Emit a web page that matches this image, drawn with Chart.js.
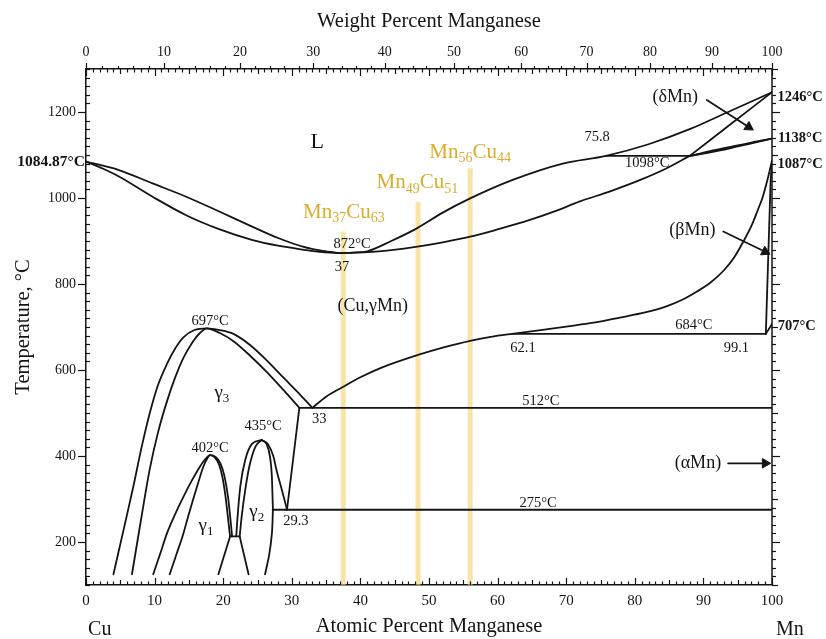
<!DOCTYPE html>
<html><head><meta charset="utf-8">
<script src="https://cdn.jsdelivr.net/npm/chart.js@4.4.0/dist/chart.umd.min.js"></script>
<style>html,body{margin:0;padding:0;background:#fff}</style>
</head><body>
<canvas id="c" width="826" height="639"></canvas>
<script>
// ---------- tick labels ----------
const atomicTicks = [0,10,20,30,40,50,60,70,80,90,100];
const weightTicks = [0,10,20,30,40,50,60,70,80,90,100];
const tempTicks = [200,400,600,800,1000,1200];

// ---------- phase boundaries [at.% Mn, °C] ----------
const liquidusCu = [[0,1084.87],[4.8,1065],[9.7,1034],[14.6,1003],[19.5,968],[24.3,933],[28,907],[31.6,887],[34.5,877],[37,872]];
const solidusCu = [[0,1084.87],[2.5,1068],[4.8,1050],[9.7,1003],[14.6,960],[19.5,927],[24.3,902],[28,889],[31.6,880],[34.5,874],[37,872]];
const liquidusMn = [[37,872],[39,873],[41,876],[44.5,900],[48.3,930],[52,966],[56,999],[62.2,1042],[69.5,1080],[75.8,1098],[82,1125],[88,1160],[94,1203],[100,1246]];
const solidusMn = [[37,872],[41,874],[44.5,879],[48.3,887],[52,897],[56,910],[60,927],[64.7,949],[68.5,970],[72,992],[76.5,1016],[80.8,1042],[84.5,1068],[88,1098]];
const deltaSolidus = [[88,1098],[94,1172],[100,1246]];
const lensUpper = [[88,1098],[91,1109],[94,1119],[97,1129],[100,1138]];
const lensLower = [[88,1098],[91,1106],[94,1116],[97,1127],[100,1138]];
const iso1098 = [[75.8,1098],[88,1098]];
const gammaBeta = [[33,512],[35,538],[37.5,561],[40,583],[43,605],[48.4,635],[52,652],[56,668],[59,677],[62.1,684],[66,692],[70,701],[74,710],[77.8,722],[81.5,734],[84.6,748],[87,764],[89,782],[91,803],[93,832],[94.5,862],[95.8,898],[97,935],[98,975],[98.6,1000],[99.3,1040],[100,1087]];
const betaSolvus = [[99.1,684],[99.8,1040],[100,1087]];
const alphaBeta = [[99.1,684],[100,707]];
const iso684 = [[62.1,684],[99.1,684]];
const iso512 = [[31.1,512],[100,512]];
const iso275 = [[27.2,275],[100,275]];
const gamma3Outer = [[4.0,125],[5.5,230],[6.9,329],[8.1,420],[9.3,500],[10.5,565],[11.8,614],[13,650],[14.2,676],[15.8,693],[17.6,697],[19.5,693],[21.5,684],[24,657],[26.3,623],[28.8,582],[31.2,543],[33,512]];
const gamma3Inner = [[6.7,125],[8,250],[9.3,370],[10.5,455],[11.8,527],[13,583],[14.2,628],[15.5,664],[16.6,686],[17.6,697],[19.5,686],[21.5,667],[24,632],[26.3,596],[28.8,553],[31.1,512]];
const gamma1Outer = [[9.8,125],[10.8,172],[11.8,220],[13,265],[14.2,305],[15.4,342],[16.6,375],[17.4,393],[18.1,402],[18.9,398],[19.6,383],[20.2,352],[20.7,305],[21.0,262],[21.3,213]];
const gamma1Inner = [[12.2,125],[13.2,172],[14.2,220],[14.9,260],[15.6,298],[16.4,340],[17.1,375],[17.7,395],[18.1,402],[18.8,396],[19.4,380],[19.9,350],[20.3,310],[20.6,270],[21.0,213]];
const flat213 = [[21.0,213],[22.4,213]];
const fanLeft = [[21.0,213],[19.3,125]];
const fanRight = [[22.4,213],[23.7,125]];
const gamma2A = [[21.9,213],[22.1,260],[22.5,330],[23.2,390],[24.2,428],[25.6,437]];
const gamma2B = [[22.4,213],[22.7,260],[23.2,320],[23.8,375],[24.7,422],[25.6,437]];
const gamma2C = [[25.6,437],[26.5,428],[27.3,400],[27.8,365],[28.4,330],[28.9,300],[29.3,275]];
const gamma2D = [[25.6,437],[26.3,428],[26.8,400],[27.1,350],[27.2,300],[27.25,275]];
const gamma2DLow = [[27.25,275],[27.1,220],[26.7,170],[26.1,125]];
const link29 = [[29.3,275],[31.1,512]];

// ---------- alloy compositions (yellow bars) ----------
const bar37 = [[37.5,100],[37.5,922]];
const bar49 = [[48.4,100],[48.4,991]];
const bar56 = [[56,100],[56,1069]];

// ---------- arrows ----------
const alphaArrow = [[93.6,383],[99.0,383]];
const deltaArrow = [[90.5,1228],[96.6,1165]];
const betaArrow = [[92.9,922],[99.0,875]];

// ---------- helpers ----------
const SERIF = '"Liberation Serif","Times New Roman",serif';
const INK = '#141414';
const GOLD = '#d9ad2c';
const M_MN = 54.938, M_CU = 63.546;
const wtToAt = w => w <= 0 ? 0 : w >= 100 ? 100 : 100 * (w / M_MN) / (w / M_MN + (100 - w) / M_CU);
const xy = pts => pts.map(([x, y]) => ({x, y}));

// mode: 'm' monotone, number = bezier tension
const curve = (pts, mode) => Object.assign({
  type: 'scatter', showLine: true, data: xy(pts), borderColor: INK, borderWidth: 1.8,
  pointRadius: 0, fill: false, order: 1, borderCapStyle: 'round', borderJoinStyle: 'round'
}, mode === 'm' ? {cubicInterpolationMode: 'monotone'} : {tension: mode || 0});
const bar = pts => ({
  type: 'scatter', showLine: true, data: xy(pts), borderColor: 'rgba(242,212,112,0.62)',
  borderWidth: 5, pointRadius: 0, tension: 0, order: 10, borderCapStyle: 'butt'
});
const arrowHead = (pts, rot) => ({
  type: 'scatter', showLine: false, data: xy([pts[pts.length - 1]]), pointStyle: 'triangle',
  pointRadius: 5.5, pointRotation: rot, backgroundColor: INK, borderColor: INK, borderWidth: 1, order: 0
});

const datasets = [
  bar(bar37), bar(bar49), bar(bar56),
  curve(liquidusCu, 'm'), curve(solidusCu, 'm'), curve(liquidusMn, 'm'), curve(solidusMn, 'm'), curve(deltaSolidus, 0.2),
  curve(lensUpper, 'm'), curve(lensLower, 'm'), curve(iso1098, 0),
  curve(gammaBeta, 'm'), curve(betaSolvus, 0), curve(alphaBeta, 0),
  curve(iso684, 0), curve(iso512, 0), curve(iso275, 0),
  curve(gamma3Outer, 'm'), curve(gamma3Inner, 'm'),
  curve(gamma1Outer, 'm'), curve(gamma1Inner, 'm'),
  curve(flat213, 0), curve(fanLeft, 0), curve(fanRight, 0),
  curve(gamma2A, 'm'), curve(gamma2B, 'm'), curve(gamma2C, 'm'), curve(gamma2D, 'm'), curve(gamma2DLow, 0.3), curve(link29, 0),
  curve(alphaArrow, 0), arrowHead(alphaArrow, 90),
  curve(deltaArrow, 0), arrowHead(deltaArrow, 123),
  curve(betaArrow, 0), arrowHead(betaArrow, 116)
];

// ---------- text annotations (data coords) ----------
const S = (t) => [t, 0], SUB = (t) => [t, 1];
const notes = [
  {x: 33.7, y: 1130, parts: [S('L')], size: 22},
  {x: 38.8, y: 893, parts: [S('872°C')], size: 14.5},
  {x: 37.3, y: 840, parts: [S('37')], size: 14.5},
  {x: 41.8, y: 749, parts: [S('(Cu,γMn)')], size: 18},
  {x: 18.1, y: 714, parts: [S('697°C')], size: 14.5},
  {x: 19.8, y: 547, parts: [S('γ'), SUB('3')], size: 19},
  {x: 34.0, y: 486, parts: [S('33')], size: 14.5},
  {x: 18.1, y: 419, parts: [S('402°C')], size: 14.5},
  {x: 25.8, y: 470, parts: [S('435°C')], size: 14.5},
  {x: 17.5, y: 237, parts: [S('γ'), SUB('1')], size: 19},
  {x: 24.9, y: 270, parts: [S('γ'), SUB('2')], size: 19},
  {x: 30.6, y: 249, parts: [S('29.3')], size: 14.5},
  {x: 66.3, y: 528, parts: [S('512°C')], size: 14.5},
  {x: 65.9, y: 291, parts: [S('275°C')], size: 14.5},
  {x: 63.7, y: 651, parts: [S('62.1')], size: 14.5},
  {x: 88.6, y: 705, parts: [S('684°C')], size: 14.5},
  {x: 94.8, y: 651, parts: [S('99.1')], size: 14.5},
  {x: 74.5, y: 1142, parts: [S('75.8')], size: 14.5},
  {x: 81.8, y: 1081, parts: [S('1098°C')], size: 14.5},
  {x: 85.9, y: 1235, parts: [S('(δMn)')], size: 18},
  {x: 88.4, y: 926, parts: [S('(βMn)')], size: 18},
  {x: 89.2, y: 384, parts: [S('(αMn)')], size: 18},
  {x: 104.1, y: 1235, parts: [S('1246°C')], size: 14.5, bold: true},
  {x: 104.1, y: 1140, parts: [S('1138°C')], size: 14.5, bold: true},
  {x: 104.1, y: 1079, parts: [S('1087°C')], size: 14.5, bold: true},
  {x: 103.6, y: 702, parts: [S('707°C')], size: 14.5, bold: true},
  {x: -0.15, y: 1084.87, parts: [S('1084.87°C')], size: 15.5, bold: true, align: 'right'},
  {x: 2.0, y: -5, parts: [S('Cu')], size: 20},
  {x: 102.6, y: -5, parts: [S('Mn')], size: 20},
  {x: 37.6, y: 967, parts: [S('Mn'), SUB('37'), S('Cu'), SUB('63')], size: 21, color: GOLD},
  {x: 48.3, y: 1035, parts: [S('Mn'), SUB('49'), S('Cu'), SUB('51')], size: 21, color: GOLD},
  {x: 56.0, y: 1107, parts: [S('Mn'), SUB('56'), S('Cu'), SUB('44')], size: 21, color: GOLD}
];

function drawRich(ctx, n, px, py) {
  const main = (n.bold ? 'bold ' : '') + n.size + 'px ' + SERIF;
  const subSize = Math.round(n.size * 0.66);
  const sub = (n.bold ? 'bold ' : '') + subSize + 'px ' + SERIF;
  let w = 0;
  const widths = n.parts.map(([t, s]) => { ctx.font = s ? sub : main; const m = ctx.measureText(t).width; w += m; return m; });
  let x = n.align === 'right' ? px - w : px - w / 2;
  ctx.fillStyle = n.color || INK;
  ctx.textAlign = 'left';
  ctx.textBaseline = 'middle';
  n.parts.forEach(([t, s], i) => {
    ctx.font = s ? sub : main;
    ctx.fillText(t, x, s ? py + n.size * 0.3 : py);
    x += widths[i];
  });
}

const labelPlugin = {
  id: 'phaseLabels',
  afterDraw(chart) {
    const {ctx, chartArea: ca} = chart;
    const xs = chart.scales.x, ys = chart.scales.y;
    ctx.save();
    ctx.strokeStyle = INK; ctx.lineWidth = 1.2;
    const seg = (a, b, c, d) => { ctx.beginPath(); ctx.moveTo(a, b); ctx.lineTo(c, d); ctx.stroke(); };
    for (let v = 0; v <= 100; v++) {
      const p = Math.round(xs.getPixelForValue(v)) + 0.5;
      const L = v % 10 === 0 ? 7 : (v % 5 === 0 ? 5 : 3.5);
      seg(p, ca.bottom, p, ca.bottom - L);
      seg(p, ca.top, p, ca.top + L);
    }
    for (let w = 0; w <= 100; w += 2) {
      const p = Math.round(xs.getPixelForValue(wtToAt(w))) + 0.5;
      seg(p, ca.top, p, ca.top - (w % 10 === 0 ? 6 : 3));
    }
    for (let t = 100; t <= 1300; t += 20) {
      const p = Math.round(ys.getPixelForValue(t)) + 0.5;
      const major = t % 200 === 0;
      if (major) seg(ca.left, p, ca.left - 8, p); else seg(ca.left, p, ca.left + 4, p);
      seg(ca.right, p, ca.right + (major ? 8 : (t % 100 === 0 ? 6 : 4)), p);
    }
    ctx.lineWidth = 1.5;
    seg(ca.right, ca.top, ca.right, ca.bottom);
    for (const n of notes) drawRich(ctx, n, xs.getPixelForValue(n.x), ys.getPixelForValue(n.y));
    ctx.restore();
  }
};

const tickFont = {family: SERIF, size: 14};
new Chart(document.getElementById('c'), {
  type: 'scatter',
  data: {datasets},
  options: {
    responsive: false, animation: false, devicePixelRatio: 1,
    layout: {padding: {left: 0, right: 54, top: 0, bottom: 0}},
    plugins: {legend: {display: false}, tooltip: {enabled: false}},
    scales: {
      x: {
        type: 'linear', position: 'bottom', min: 0, max: 100,
        afterBuildTicks: s => { s.ticks = atomicTicks.map(v => ({value: v})); },
        afterFit: s => { s.height = 54; },
        ticks: {font: {family: SERIF, size: 15}, color: INK, padding: 7, maxRotation: 0, autoSkip: false, callback: v => String(v)},
        grid: {display: false, drawTicks: false},
        border: {display: true, color: INK, width: 1.5},
        title: {display: true, text: 'Atomic Percent Manganese', color: INK, font: {family: SERIF, size: 20.5}, padding: {top: 0, bottom: 0}}
      },
      xTop: {
        type: 'linear', position: 'top', min: 0, max: 100,
        afterBuildTicks: s => { s.ticks = weightTicks.map(w => ({value: wtToAt(w)})); },
        afterFit: s => { s.height = 69; },
        ticks: {font: tickFont, color: INK, padding: 8, maxRotation: 0, autoSkip: false, callback: (v, i) => String(weightTicks[i])},
        grid: {display: false, drawTicks: false},
        border: {display: true, color: INK, width: 1.5},
        title: {display: true, text: 'Weight Percent Manganese', color: INK, font: {family: SERIF, size: 20.5}, padding: {top: 9, bottom: 0}}
      },
      y: {
        type: 'linear', position: 'left', min: 100, max: 1300,
        afterBuildTicks: s => { s.ticks = tempTicks.map(v => ({value: v})); },
        afterFit: s => { s.width = 86; },
        ticks: {font: tickFont, color: INK, padding: 10, autoSkip: false, callback: v => String(v)},
        grid: {display: false, drawTicks: false},
        border: {display: true, color: INK, width: 1.5},
        title: {display: true, text: 'Temperature, °C', color: INK, font: {family: SERIF, size: 20.5}, padding: {top: 11, bottom: 0}}
      }
    }
  },
  plugins: [labelPlugin]
});
</script>
</body></html>
